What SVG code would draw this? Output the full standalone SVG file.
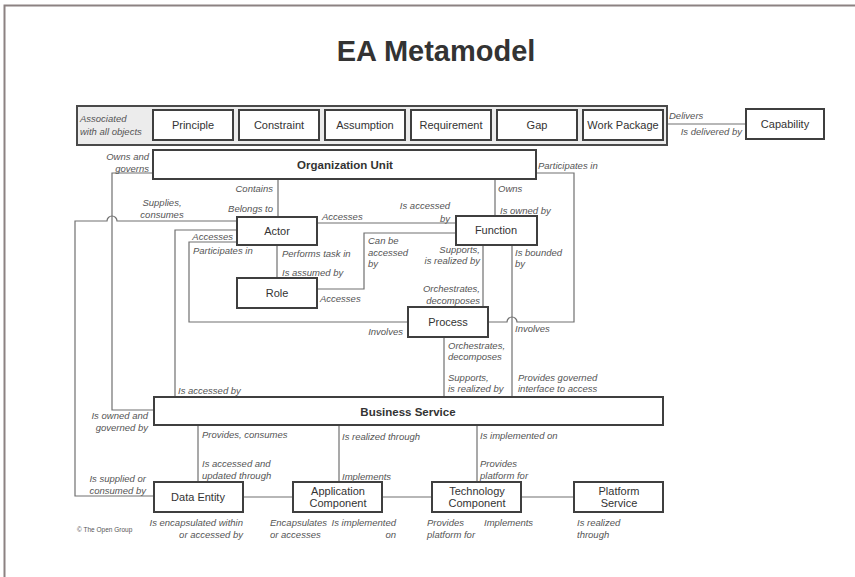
<svg xmlns="http://www.w3.org/2000/svg" width="855" height="577" viewBox="0 0 855 577">
<style>
.bx{fill:#fff;stroke:#3f3f3f;stroke-width:2}
.grp{fill:#ececec;stroke:#4a4a4a;stroke-width:2}
.t{font-family:"Liberation Sans",Arial,sans-serif;font-size:11px;fill:#333;text-anchor:middle}
.b{font-family:"Liberation Sans",Arial,sans-serif;font-size:11.5px;font-weight:bold;fill:#333;text-anchor:middle}
.l{font-family:"Liberation Sans",Arial,sans-serif;font-size:9.5px;font-style:italic;fill:#555}
.r{text-anchor:end}
.m{text-anchor:middle}
.c{fill:none;stroke:#707070;stroke-width:1.2}
</style>
<rect x="0" y="0" width="855" height="577" fill="#fff"/>
<path d="M4.5,577 V5.5 H855" fill="none" stroke="#8c8282" stroke-width="2"/>
<text x="436" y="61" font-family="'Liberation Sans',Arial,sans-serif" font-size="29" font-weight="bold" fill="#333" text-anchor="middle">EA Metamodel</text>

<g id="connectors">
<path class="c" d="M667,124 H746"/>
<path class="c" d="M153,173 H112 V410 H154"/>
<path class="c" d="M237,221 H117 A5,5 0 0 0 107,221 H75 V496 H154"/>
<path class="c" d="M536,173 H574 V322 H517 A5,5 0 0 0 507,322 H488"/>
<path class="c" d="M278,179 V217"/>
<path class="c" d="M495,179 V216"/>
<path class="c" d="M317,223 H456"/>
<path class="c" d="M237,230 H175 V397"/>
<path class="c" d="M237,242 H189 V322 H408"/>
<path class="c" d="M277,245 V278"/>
<path class="c" d="M456,233 H364 V289 H317"/>
<path class="c" d="M483,245 V307"/>
<path class="c" d="M512,245 V397"/>
<path class="c" d="M444,337 V397"/>
<path class="c" d="M198,425 V482"/>
<path class="c" d="M339,425 V482"/>
<path class="c" d="M477,425 V482"/>
<path class="c" d="M243,497 H293"/>
<path class="c" d="M382,497 H432"/>
<path class="c" d="M521,497 H574"/>
</g>

<g id="associated">
<rect class="grp" x="77" y="106" width="590" height="39"/>
<text class="l" x="80" y="122" font-size="11">Associated</text>
<text class="l" x="80" y="135" font-size="11">with all objects</text>
</g>
<g id="principle"><rect class="bx" x="153" y="110" width="80" height="30"/><text class="t" x="193" y="129">Principle</text></g>
<g id="constraint"><rect class="bx" x="239" y="110" width="80" height="30"/><text class="t" x="279" y="129">Constraint</text></g>
<g id="assumption"><rect class="bx" x="325" y="110" width="80" height="30"/><text class="t" x="365" y="129">Assumption</text></g>
<g id="requirement"><rect class="bx" x="411" y="110" width="80" height="30"/><text class="t" x="451" y="129">Requirement</text></g>
<g id="gap"><rect class="bx" x="497" y="110" width="80" height="30"/><text class="t" x="537" y="129">Gap</text></g>
<g id="workpackage"><rect class="bx" x="583" y="110" width="80" height="30"/><text class="t" x="623" y="129">Work Package</text></g>
<g id="capability"><rect class="bx" x="746" y="109" width="78" height="30"/><text class="t" x="785" y="128">Capability</text></g>

<g id="orgunit"><rect class="bx" x="153" y="150" width="383" height="29"/><text class="b" x="345" y="169">Organization Unit</text></g>
<g id="actor"><rect class="bx" x="237" y="217" width="80" height="28"/><text class="t" x="277" y="235">Actor</text></g>
<g id="function"><rect class="bx" x="456" y="216" width="81" height="29"/><text class="t" x="496" y="234">Function</text></g>
<g id="role"><rect class="bx" x="237" y="278" width="80" height="30"/><text class="t" x="277" y="297">Role</text></g>
<g id="process"><rect class="bx" x="408" y="307" width="80" height="30"/><text class="t" x="448" y="326">Process</text></g>
<g id="businessservice"><rect class="bx" x="154" y="397" width="509" height="28"/><text class="b" x="408" y="416">Business Service</text></g>
<g id="dataentity"><rect class="bx" x="154" y="482" width="89" height="30"/><text class="t" x="198" y="501">Data Entity</text></g>
<g id="appcomponent"><rect class="bx" x="293" y="482" width="89" height="30"/><text class="t" x="338" y="495">Application</text><text class="t" x="338" y="507">Component</text></g>
<g id="techcomponent"><rect class="bx" x="432" y="482" width="89" height="30"/><text class="t" x="477" y="495">Technology</text><text class="t" x="477" y="507">Component</text></g>
<g id="platformservice"><rect class="bx" x="574" y="482" width="89" height="30"/><text class="t" x="619" y="495">Platform</text><text class="t" x="619" y="507">Service</text></g>

<g id="labels">
<text class="l" x="669" y="119">Delivers</text>
<text class="l r" x="742" y="135">Is delivered by</text>
<text class="l r" x="149" y="160">Owns and</text>
<text class="l r" x="149" y="172">governs</text>
<text class="l" x="538" y="169">Participates in</text>
<text class="l m" x="162" y="206">Supplies,</text>
<text class="l m" x="162" y="218">consumes</text>
<text class="l r" x="273" y="192">Contains</text>
<text class="l r" x="273" y="212">Belongs to</text>
<text class="l" x="322" y="220">Accesses</text>
<text class="l r" x="450" y="209">Is accessed</text>
<text class="l r" x="450" y="222">by</text>
<text class="l" x="498" y="192">Owns</text>
<text class="l" x="500" y="214">Is owned by</text>
<text class="l r" x="233" y="240">Accesses</text>
<text class="l" x="193" y="254">Participates in</text>
<text class="l" x="282" y="257">Performs task in</text>
<text class="l" x="282" y="276">Is assumed by</text>
<text class="l" x="368" y="244">Can be</text>
<text class="l" x="368" y="256">accessed</text>
<text class="l" x="368" y="267">by</text>
<text class="l r" x="480" y="253">Supports,</text>
<text class="l r" x="480" y="264">is realized by</text>
<text class="l" x="515" y="256">Is bounded</text>
<text class="l" x="515" y="267">by</text>
<text class="l" x="320" y="302">Accesses</text>
<text class="l r" x="480" y="292">Orchestrates,</text>
<text class="l r" x="480" y="304">decomposes</text>
<text class="l r" x="403" y="335">Involves</text>
<text class="l" x="515" y="332">Involves</text>
<text class="l" x="448" y="349">Orchestrates,</text>
<text class="l" x="448" y="360">decomposes</text>
<text class="l" x="448" y="381">Supports,</text>
<text class="l" x="448" y="392">is realized by</text>
<text class="l" x="518" y="381">Provides governed</text>
<text class="l" x="518" y="392">interface to access</text>
<text class="l" x="178" y="394">Is accessed by</text>
<text class="l r" x="148" y="419">Is owned and</text>
<text class="l r" x="148" y="431">governed by</text>
<text class="l" x="202" y="438">Provides, consumes</text>
<text class="l" x="342" y="440">Is realized through</text>
<text class="l" x="480" y="439">Is implemented on</text>
<text class="l" x="202" y="467">Is accessed and</text>
<text class="l" x="202" y="479">updated through</text>
<text class="l" x="342" y="480">Implements</text>
<text class="l" x="480" y="467">Provides</text>
<text class="l" x="480" y="479">platform for</text>
<text class="l r" x="146" y="482">Is supplied or</text>
<text class="l r" x="146" y="494">consumed by</text>
<text class="l r" x="243" y="526">Is encapsulated within</text>
<text class="l r" x="243" y="538">or accessed by</text>
<text class="l" x="270" y="526">Encapsulates</text>
<text class="l" x="270" y="538">or accesses</text>
<text class="l r" x="396" y="526">Is implemented</text>
<text class="l r" x="396" y="538">on</text>
<text class="l" x="427" y="526">Provides</text>
<text class="l" x="427" y="538">platform for</text>
<text class="l" x="484" y="526">Implements</text>
<text class="l" x="577" y="526">Is realized</text>
<text class="l" x="577" y="538">through</text>
<text x="77" y="532" font-family="'Liberation Sans',Arial,sans-serif" font-size="6.5" fill="#555">© The Open Group</text>
</g>
</svg>
